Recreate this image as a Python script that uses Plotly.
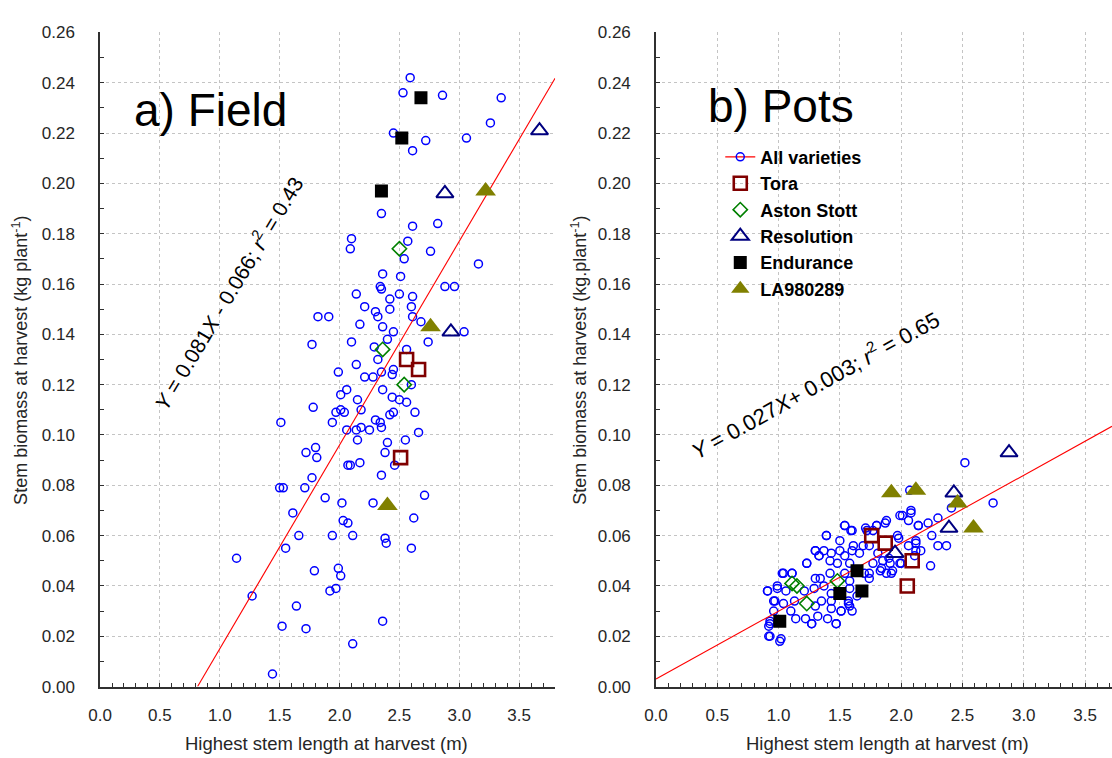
import plotly.graph_objects as go

FONT = "Liberation Sans, Arial, sans-serif"

# ---------------- a) Field ----------------
field_all_x = [2.59, 2.53, 2.86, 3.35, 3.26, 2.45, 2.72, 2.61, 3.06, 2.35, 2.61, 2.82, 2.10, 2.09,
               2.57, 2.76, 2.54, 3.16, 2.36, 2.51, 2.34, 2.35, 2.14, 2.50, 2.61, 2.88, 2.96, 2.42,
               2.21, 2.30, 2.42, 2.60, 1.82, 1.91, 2.32, 2.61, 2.17, 2.68, 2.36, 2.45, 3.04, 1.77,
               2.10, 2.40, 2.74, 2.29, 2.32, 2.14, 1.99, 2.56, 2.21, 2.28, 2.35, 2.45, 2.44,
               2.36, 2.01, 2.06, 2.15, 2.44, 2.50, 2.56, 2.60, 1.78, 2.18, 2.01, 1.97, 2.04, 2.45,
               2.42, 2.63, 1.51, 1.94, 2.30, 2.34, 2.35, 2.06, 2.14, 2.18, 2.25, 2.66, 2.15, 2.55,
               2.40, 1.72, 1.80, 1.81, 2.38, 2.07, 2.09, 2.17, 2.46, 2.35, 1.77, 1.50, 1.53, 1.71,
               2.71, 1.88, 2.02, 2.28, 1.61, 2.62, 2.03, 2.07, 1.66, 1.94, 2.11, 2.38, 2.39, 1.55,
               2.60, 1.14, 1.79, 1.99, 2.01, 1.27, 1.92, 1.97, 1.64, 2.36, 1.52, 1.72, 2.11, 1.44]
field_all_y = [0.242, 0.236, 0.235, 0.234, 0.224, 0.220, 0.217, 0.213, 0.218, 0.188, 0.183, 0.184,
               0.178, 0.174, 0.177, 0.173, 0.170, 0.168, 0.164, 0.163, 0.159, 0.158, 0.156, 0.156,
               0.155, 0.159, 0.159, 0.154, 0.151, 0.149, 0.150, 0.151, 0.147, 0.147, 0.147, 0.147,
               0.144, 0.145, 0.143, 0.141, 0.141, 0.136, 0.137, 0.138, 0.137, 0.135, 0.130, 0.128,
               0.125, 0.134, 0.123, 0.123, 0.125, 0.126, 0.124,
               0.118, 0.116, 0.118, 0.114, 0.115, 0.114, 0.113, 0.120, 0.111, 0.110, 0.110, 0.109,
               0.109, 0.109, 0.108, 0.109, 0.105, 0.105, 0.106, 0.105, 0.103, 0.102, 0.102, 0.103,
               0.102, 0.101, 0.098, 0.098, 0.097, 0.093, 0.095, 0.091, 0.093, 0.088, 0.088, 0.089,
               0.088, 0.084, 0.083, 0.079, 0.079, 0.079, 0.076, 0.075, 0.073, 0.073, 0.069, 0.067,
               0.066, 0.065, 0.060, 0.060, 0.060, 0.059, 0.057, 0.055, 0.055, 0.051, 0.046, 0.047,
               0.044, 0.036, 0.038, 0.039, 0.032, 0.026, 0.024, 0.023, 0.017, 0.005]

field_tora_x = [2.56, 2.66, 2.51]
field_tora_y = [0.130, 0.126, 0.091]
field_aston_x = [2.50, 2.36, 2.54]
field_aston_y = [0.174, 0.134, 0.120]
field_resol_x = [3.67, 2.88, 2.93]
field_resol_y = [0.221, 0.196, 0.141]
field_endur_x = [2.68, 2.52, 2.35]
field_endur_y = [0.234, 0.218, 0.197]
field_la_x = [3.22, 2.76, 2.40]
field_la_y = [0.197, 0.143, 0.072]

field_slope, field_icpt, field_r2 = 0.081, -0.066, 0.43

# ---------------- b) Pots ----------------
pots_all_x = [2.08, 2.01, 1.88, 2.06, 2.14, 1.54, 1.80, 1.72, 1.60, 1.39, 1.97, 2.12, 1.50, 1.61,
              1.74, 1.30, 1.37, 1.43, 1.50, 1.54, 1.66, 1.60, 1.69, 1.81, 1.90, 2.00, 2.12, 1.33,
              1.42, 1.48, 1.58, 1.77, 1.85, 1.93, 1.88, 1.83, 1.70, 1.74, 1.23, 1.04, 1.11, 1.30,
              1.34, 1.42, 1.54, 1.58, 0.99, 0.91, 1.06, 1.21, 1.29, 1.37, 1.43, 1.58, 0.96, 1.04,
              1.13, 1.35, 1.43, 1.57, 1.64, 0.96, 1.10, 1.30, 1.51, 1.58, 1.14, 1.22, 1.32, 1.40,
              0.93, 0.92, 0.93, 1.27, 1.47, 1.02,
              2.52, 2.07, 2.75, 1.99, 2.08, 2.41, 2.30, 2.22, 2.14, 2.25, 2.30, 2.37, 2.24, 2.16,
              2.12, 1.39, 1.54, 1.23, 1.30, 1.33, 0.91, 0.99, 1.03, 1.11, 0.97, 0.93, 0.92, 1.01,
              1.47, 1.27, 1.77, 1.80, 1.87, 1.71, 1.59, 1.92, 1.91, 1.99, 1.84, 1.74, 2.06, 1.98,
              2.11, 1.57, 1.60, 1.51, 1.43]
pots_all_y = [0.070, 0.068, 0.066, 0.066, 0.064, 0.064, 0.064, 0.062, 0.062, 0.060, 0.060, 0.057,
              0.058, 0.056, 0.056, 0.054, 0.054, 0.053, 0.054, 0.052, 0.053, 0.054, 0.056, 0.053,
              0.051, 0.049, 0.054, 0.052, 0.050, 0.049, 0.049, 0.049, 0.050, 0.046, 0.045, 0.046,
              0.045, 0.043, 0.049, 0.045, 0.045, 0.043, 0.043, 0.045, 0.045, 0.042, 0.040, 0.038,
              0.038, 0.038, 0.039, 0.040, 0.037, 0.039, 0.034, 0.033, 0.034, 0.034, 0.034, 0.034,
              0.036, 0.030, 0.030, 0.032, 0.030, 0.032, 0.027, 0.027, 0.028, 0.027, 0.026, 0.024,
              0.020, 0.025, 0.025, 0.019,
              0.089, 0.078, 0.073, 0.068, 0.069, 0.071, 0.067, 0.065, 0.064, 0.060, 0.056, 0.056,
              0.048, 0.054, 0.058, 0.060, 0.064, 0.049, 0.054, 0.052, 0.038, 0.039, 0.045, 0.045,
              0.034, 0.025, 0.020, 0.018, 0.025, 0.025, 0.062, 0.064, 0.065, 0.063, 0.062, 0.045,
              0.049, 0.049, 0.047, 0.045, 0.056, 0.059, 0.052, 0.033, 0.030, 0.030, 0.031]

pots_tora_x = [1.76, 1.87, 2.09, 2.05]
pots_tora_y = [0.060, 0.057, 0.050, 0.040]
pots_aston_x = [1.11, 1.15, 1.23, 1.48]
pots_aston_y = [0.041, 0.040, 0.033, 0.042]
pots_resol_x = [2.88, 2.43, 2.39, 1.95]
pots_resol_y = [0.093, 0.077, 0.063, 0.053]
pots_endur_x = [1.01, 1.50, 1.64, 1.68]
pots_endur_y = [0.026, 0.037, 0.046, 0.038]
pots_la_x = [1.92, 2.12, 2.46, 2.59]
pots_la_y = [0.077, 0.078, 0.073, 0.063]

pots_slope, pots_icpt, pots_r2 = 0.027, 0.003, 0.65

# axis extents
field_xmax = 3.8
pots_xmax = 3.72
y_max = 0.26

variety_styles = [
    ("Tora", dict(symbol="square-open", size=13, color="#800000", line=dict(width=2.6, color="#800000"))),
    ("Aston Stott", dict(symbol="diamond-open", size=11, color="#008000", line=dict(width=1.6, color="#008000"))),
    ("Resolution", dict(symbol="triangle-up-open", size=15, color="#000080", line=dict(width=2.0, color="#000080"))),
    ("Endurance", dict(symbol="square", size=13, color="#000000", line=dict(width=0))),
    ("LA980289", dict(symbol="triangle-up", size=18, color="#808000", line=dict(width=0))),
]

all_marker = dict(symbol="circle-open", size=8, color="#0000ff", line=dict(width=1.5, color="#0000ff"))
reg_line = dict(color="#ff0000", width=1.1)

fig = go.Figure()

# legend proxy for the pooled data (line + marker)
fig.add_trace(go.Scatter(x=[None], y=[None], mode="lines+markers", name="All varieties",
                         marker=all_marker, line=reg_line, xaxis="x2", yaxis="y2",
                         showlegend=True))


def add_panel(xa, ya, all_x, all_y, var_data, slope, icpt, xmax, legend):
    fig.add_trace(go.Scatter(x=all_x, y=all_y, mode="markers", marker=all_marker,
                             xaxis=xa, yaxis=ya, showlegend=False, name="All varieties"))
    x0 = max(0.0, -icpt / slope)
    lx = [x0, xmax]
    ly = [slope * v + icpt for v in lx]
    fig.add_trace(go.Scatter(x=lx, y=ly, mode="lines", line=reg_line,
                             xaxis=xa, yaxis=ya, showlegend=False, hoverinfo="skip"))
    for (name, mk), (vx, vy) in zip(variety_styles, var_data):
        fig.add_trace(go.Scatter(x=vx, y=vy, mode="markers", marker=mk, name=name,
                                 xaxis=xa, yaxis=ya, showlegend=legend))


add_panel("x", "y", field_all_x, field_all_y,
          [(field_tora_x, field_tora_y), (field_aston_x, field_aston_y),
           (field_resol_x, field_resol_y), (field_endur_x, field_endur_y),
           (field_la_x, field_la_y)],
          field_slope, field_icpt, field_xmax, False)
add_panel("x2", "y2", pots_all_x, pots_all_y,
          [(pots_tora_x, pots_tora_y), (pots_aston_x, pots_aston_y),
           (pots_resol_x, pots_resol_y), (pots_endur_x, pots_endur_y),
           (pots_la_x, pots_la_y)],
          pots_slope, pots_icpt, pots_xmax, True)

W, H = 1112, 758


def px(x):
    return x / W


def py(y):
    return 1 - y / H


grid_style = dict(showgrid=True, gridcolor="#c4c4c4", griddash="dot", gridwidth=1)
axis_common = dict(showline=True, linecolor="#303030", linewidth=1.5, mirror=False,
                   ticks="inside", ticklen=4, tickwidth=1, tickcolor="#303030",
                   tickfont=dict(family=FONT, size=17, color="#262626"),
                   zeroline=False, fixedrange=True, **grid_style)

xdom_l = [px(89), px(549)]
xdom_r = [px(651), 1.0]
ydom = [1 - 695 / H, 1 - 24 / H]

xaxis_kw = dict(dtick=0.5, tick0=0, tickformat=".1f", ticklabelstandoff=12,
                minor=dict(dtick=0.1, ticks="inside", ticklen=4, tickcolor="#303030", showgrid=False))
yaxis_kw = dict(dtick=0.02, tick0=0, tickformat=".2f", range=[0, y_max], ticklabelstandoff=20,
                minor=dict(dtick=0.01, ticks="inside", ticklen=4, tickcolor="#303030", showgrid=False))

fig.update_layout(
    width=W, height=H,
    margin=dict(l=0, r=0, t=0, b=0),
    paper_bgcolor="white", plot_bgcolor="white",
    font=dict(family=FONT, color="#1a1a1a"),
    xaxis=dict(domain=xdom_l, range=[0, field_xmax], anchor="y", **xaxis_kw, **axis_common),
    yaxis=dict(domain=ydom, anchor="x", **yaxis_kw, **axis_common),
    xaxis2=dict(domain=xdom_r, range=[0, pots_xmax], anchor="y2", **xaxis_kw, **axis_common),
    yaxis2=dict(domain=ydom, anchor="x2", **yaxis_kw, **axis_common),
    showlegend=True,
    legend=dict(x=px(716), y=py(133), xanchor="left", yanchor="top",
                bgcolor="rgba(0,0,0,0)", borderwidth=0, itemsizing="trace",
                font=dict(family=FONT, size=18, color="#000000", weight="bold"),
                traceorder="normal"),
)


def eq_text(slope, icpt, r2):
    sign = "- " if icpt < 0 else "+ "
    sep = " " if icpt < 0 else ""
    return (f"<i>Y</i> = {slope:.3f}<i>X</i>{sep}{sign}{abs(icpt):.3f}; "
            f"<i>r</i><sup>2</sup> = {r2:.2f}")


ann = [
    dict(text="a) Field", x=px(201), y=py(104), font=dict(size=46, family=FONT, color="#000")),
    dict(text="b) Pots", x=px(777), y=py(100), font=dict(size=46, family=FONT, color="#000")),
    dict(text=eq_text(field_slope, field_icpt, field_r2), x=px(218), y=py(291), textangle=-59,
         font=dict(size=21, family=FONT, color="#000")),
    dict(text=eq_text(pots_slope, pots_icpt, pots_r2), x=px(812), y=py(385), textangle=-29,
         font=dict(size=22, family=FONT, color="#000")),
    dict(text="Highest stem length at harvest (m)", x=px(318), y=py(753),
         font=dict(size=18.5, family=FONT, color="#262626")),
    dict(text="Highest stem length at harvest (m)", x=px(885), y=py(753),
         font=dict(size=18.5, family=FONT, color="#262626")),
    dict(text="Stem biomass at harvest (kg plant<sup>-1</sup>)", x=px(9), y=py(360), textangle=-90,
         font=dict(size=18, family=FONT, color="#262626")),
    dict(text="Stem biomass at harvest (kg.plant<sup>-1</sup>)", x=px(574), y=py(360), textangle=-90,
         font=dict(size=18, family=FONT, color="#262626")),
]
for a in ann:
    a.update(xref="paper", yref="paper", xanchor="center", yanchor="middle", showarrow=False)
fig.update_layout(annotations=ann)

fig.write_html("out.html")
